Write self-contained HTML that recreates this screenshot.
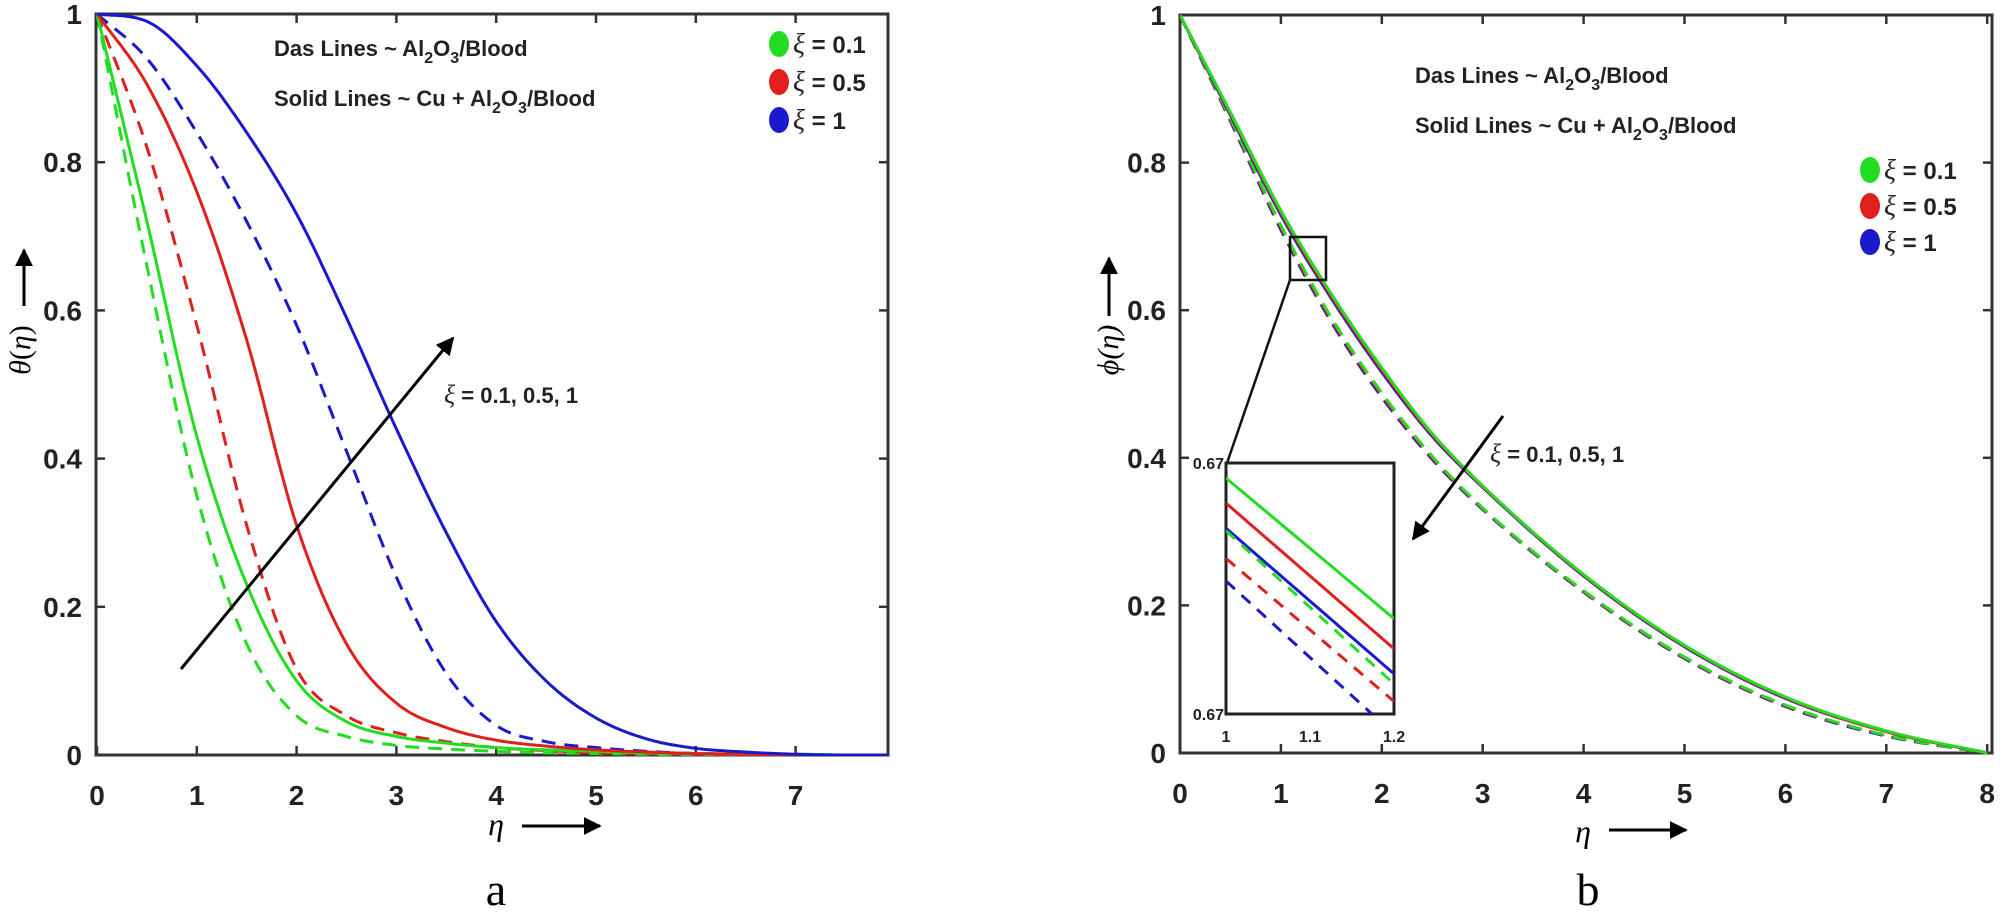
<!DOCTYPE html>
<html><head><meta charset="utf-8">
<style>
html,body{margin:0;padding:0;background:#fff;}
svg{display:block;}
text{font-family:"Liberation Sans",Arial,sans-serif;}
.tk{font-size:28px;font-weight:bold;fill:#222;}
.ann{font-size:22px;font-weight:bold;fill:#222;}
.leg{font-size:24px;font-weight:bold;fill:#222;}
.ser{font-family:"Liberation Serif",serif;}
</style></head>
<body>
<svg id="fig" width="2000" height="914" viewBox="0 0 2000 914" xmlns="http://www.w3.org/2000/svg">
<defs>
<marker id="ah" viewBox="0 0 10 10" refX="9" refY="5" markerWidth="6" markerHeight="6" orient="auto-start-reverse"><path d="M0,0 L10,5 L0,10 z" fill="#000"/></marker>
<clipPath id="clipA"><rect x="96" y="10" width="792" height="746"/></clipPath>
<clipPath id="clipB"><rect x="1180" y="10" width="812" height="746"/></clipPath>
<clipPath id="clipI"><rect x="1226" y="463" width="168" height="251"/></clipPath>
</defs>
<g id="plotA"></g>
<g id="plotB"></g>
</svg>
<script>
// ---- Chart A data: theta(eta)
const etaA = [0,0.5,1,1.5,2,2.5,3,3.5,4,4.5,5,5.5,6,6.5,7,7.5,8];
const thetaBlueSolid  = [1,0.99,0.93,0.84,0.73,0.59,0.44,0.30,0.18,0.10,0.05,0.022,0.009,0.004,0.001,0,0];
const thetaBlueDash   = [1,0.94,0.84,0.72,0.58,0.41,0.24,0.11,0.04,0.018,0.01,0.005,0.002,0.001,0,0,0];
const thetaRedSolid   = [1,0.905,0.76,0.56,0.31,0.15,0.07,0.037,0.02,0.012,0.007,0.004,0.002,0.001,0,0,0];
const thetaRedDash    = [1,0.82,0.58,0.31,0.116,0.053,0.03,0.018,0.01,0.006,0.003,0.002,0.001,0,0,0,0];
const thetaGreenSolid = [1,0.72,0.43,0.23,0.10,0.045,0.025,0.016,0.01,0.007,0.005,0.003,0.002,0.001,0.001,0,0];
const thetaGreenDash  = [1,0.66,0.35,0.15,0.053,0.025,0.013,0.008,0.005,0.003,0.002,0.001,0,0,0,0,0];
const xTicksA = [0,1,2,3,4,5,6,7];
const yTicks = [0,0.2,0.4,0.6,0.8,1];
const yTickLabels = ["0","0.2","0.4","0.6","0.8","1"];
// ---- Chart B data: phi(eta)
const etaB = [0,0.5,1,1.5,2,2.5,3,4,5,6,7,8];
const phiGreenSolid = [1,0.868,0.735,0.622,0.522,0.433,0.362,0.242,0.146,0.076,0.030,0];
const phiRedSolid   = [1,0.866,0.732,0.619,0.519,0.431,0.361,0.241,0.145,0.075,0.029,0];
const phiBlueSolid  = [1,0.864,0.729,0.616,0.516,0.429,0.360,0.240,0.144,0.074,0.029,0];
const phiGreenDash  = [1,0.860,0.715,0.590,0.488,0.402,0.332,0.220,0.130,0.065,0.024,0];
const phiRedDash    = [1,0.858,0.712,0.587,0.485,0.400,0.331,0.219,0.129,0.064,0.024,0];
const phiBlueDash   = [1,0.856,0.709,0.584,0.482,0.398,0.330,0.218,0.128,0.063,0.023,0];
const xTicksB = [0,1,2,3,4,5,6,7,8];
// ---- Inset data
const insetEta = [1.0,1.2];
const insetGreenSolid = [0.6744,0.6688];
const insetRedSolid   = [0.6734,0.6676];
const insetBlueSolid  = [0.6724,0.6666];
const insetGreenDash  = [0.6723,0.6662];
const insetRedDash    = [0.6712,0.6655];
const insetBlueDash   = [0.6703,0.6642];
const insetXTicks = [1,1.1,1.2];
const insetXLabels = ["1","1.1","1.2"];

const NS="http://www.w3.org/2000/svg";
function mk(parent,tag,attrs,txt){const e=document.createElementNS(NS,tag);for(const k in attrs)e.setAttribute(k,attrs[k]);if(txt!==undefined)e.textContent=txt;parent.appendChild(e);return e;}
function monoPath(xa,ya,xs,ys){
  const n=xa.length,d=[],m=new Array(n);
  for(let i=0;i<n-1;i++)d.push((ya[i+1]-ya[i])/(xa[i+1]-xa[i]));
  m[0]=d[0];m[n-1]=d[n-2];
  for(let i=1;i<n-1;i++){m[i]=(d[i-1]*d[i]<=0)?0:(d[i-1]+d[i])/2;}
  for(let i=0;i<n-1;i++){
    if(d[i]===0){m[i]=0;m[i+1]=0;continue;}
    const a=m[i]/d[i],b=m[i+1]/d[i],s=a*a+b*b;
    if(s>9){const t=3/Math.sqrt(s);m[i]=t*a*d[i];m[i+1]=t*b*d[i];}
  }
  let pts=[];
  for(let i=0;i<n-1;i++){
    const h=xa[i+1]-xa[i];
    for(let k=0;k<20;k++){
      const t=k/20,h00=2*t*t*t-3*t*t+1,h10=t*t*t-2*t*t+t,h01=-2*t*t*t+3*t*t,h11=t*t*t-t*t;
      const y=h00*ya[i]+h10*h*m[i]+h01*ya[i+1]+h11*h*m[i+1];
      pts.push(xs(xa[i]+t*h).toFixed(1)+","+ys(y).toFixed(1));
    }
  }
  pts.push(xs(xa[n-1]).toFixed(1)+","+ys(ya[n-1]).toFixed(1));
  return "M"+pts.join(" L");
}
const G="#22dd22",R="#e0201c",B="#1a1acc";

function drawAxes(g,cfg){
  const {L,Rt,T,Bt,xs,ys,xTicks}=cfg;
  const frame=mk(g,"rect",{x:L,y:T,width:Rt-L,height:Bt-T,fill:"none",stroke:"#333","stroke-width":3});
  
  
  xTicks.forEach(v=>{
    const x=xs(v);
    mk(g,"line",{x1:x,y1:Bt,x2:x,y2:Bt-9,stroke:"#333","stroke-width":2.5});
    mk(g,"line",{x1:x,y1:T,x2:x,y2:T+9,stroke:"#333","stroke-width":2.5});
    const t=mk(g,"text",{x:x,y:Bt+50,"text-anchor":"middle",class:"tk"},String(v));
    
    
  });
  yTicks.forEach((v,i)=>{
    const y=ys(v);
    mk(g,"line",{x1:L,y1:y,x2:L+9,y2:y,stroke:"#333","stroke-width":2.5});
    mk(g,"line",{x1:Rt,y1:y,x2:Rt-9,y2:y,stroke:"#333","stroke-width":2.5});
    const t=mk(g,"text",{x:L-14,y:y+10,"text-anchor":"end",class:"tk"},yTickLabels[i]);
    
    
  });
}
function drawSeries(g,xArr,yArr,xs,ys,color,dash,name,clip,w){
  const p=mk(g,"path",{d:monoPath(xArr,yArr,xs,ys),fill:"none",stroke:color,"stroke-width":w||3,"clip-path":"url(#"+clip+")","stroke-linejoin":"round"});
  if(dash)p.setAttribute("stroke-dasharray",dash);
  
  
}
function legend(g,x,y0,dy){
  const cols=[G,R,B],labs=["0.1","0.5","1"];
  cols.forEach((c,i)=>{
    const y=y0+i*dy;
    const e=mk(g,"ellipse",{cx:x,cy:y,rx:10,ry:13,fill:c});
    
    
    const t=mk(g,"text",{x:x+14,y:y+9,class:"leg"});
    
    
    mk(t,"tspan",{class:"ser","font-style":"italic","font-weight":"normal","font-size":"28"},"ξ");
    mk(t,"tspan",{}," = "+labs[i]);
  });
}
function annot(g,x,y1,y2){
  const a=mk(g,"text",{x:x,y:y1,class:"ann"});
  
  
  a.innerHTML='Das Lines ~ Al<tspan dy="7" font-size="16">2</tspan><tspan dy="-7">O</tspan><tspan dy="7" font-size="16">3</tspan><tspan dy="-7">/Blood</tspan>';
  const b=mk(g,"text",{x:x,y:y2,class:"ann"});
  
  
  b.innerHTML='Solid Lines ~ Cu + Al<tspan dy="7" font-size="16">2</tspan><tspan dy="-7">O</tspan><tspan dy="7" font-size="16">3</tspan><tspan dy="-7">/Blood</tspan>';
}
function arrowLine(g,x1,y1,x2,y2,name){
  const l=mk(g,"line",{x1:x1,y1:y1,x2:x2,y2:y2,stroke:"#000","stroke-width":3,"marker-end":"url(#ah)"});
  
  
}
function xiLabel(g,x,y){
  const t=mk(g,"text",{x:x,y:y,class:"ann"});
  
  
  mk(t,"tspan",{class:"ser","font-style":"italic","font-weight":"normal","font-size":"26"},"ξ");
  mk(t,"tspan",{}," = 0.1, 0.5, 1");
}

// ===== Plot A =====
(function(){
  const g=document.getElementById("plotA");
  const L=96,Rt=888,T=14,Bt=755;
  const xs=v=>97+v*99.8, ys=v=>Bt-v*(Bt-T);
  drawAxes(g,{L,Rt,T,Bt,xs,ys,xTicks:xTicksA});
  drawSeries(g,etaA,thetaGreenDash,xs,ys,G,"14,9","theta-green-dashed","clipA");
  drawSeries(g,etaA,thetaRedDash,xs,ys,R,"14,9","theta-red-dashed","clipA");
  drawSeries(g,etaA,thetaBlueDash,xs,ys,B,"14,9","theta-blue-dashed","clipA");
  drawSeries(g,etaA,thetaGreenSolid,xs,ys,G,null,"theta-green-solid","clipA");
  drawSeries(g,etaA,thetaRedSolid,xs,ys,R,null,"theta-red-solid","clipA");
  drawSeries(g,etaA,thetaBlueSolid,xs,ys,B,null,"theta-blue-solid","clipA");
  annot(g,274,56,106);
  legend(g,779,44,38);
  arrowLine(g,181,669,453,338,"trend-arrow");
  xiLabel(g,444,403);
  const yt=mk(g,"text",{x:0,y:0,transform:"translate(30,350) rotate(-90)","font-size":"30","text-anchor":"middle",class:"ser"});
  
  
  yt.innerHTML='<tspan font-style="italic">θ</tspan>(<tspan font-style="italic">η</tspan>)';
  arrowLine(g,24,306,24,250,"y-axis-arrow");
  const xt=mk(g,"text",{x:496,y:835,"font-size":"32","font-style":"italic",class:"ser","text-anchor":"middle"},"η");
  
  
  arrowLine(g,522,826,600,826,"x-axis-arrow");
  const cap=mk(g,"text",{x:496,y:905,"font-size":"46",class:"ser","text-anchor":"middle"},"a");
  
  
})();

// ===== Plot B =====
(function(){
  const g=document.getElementById("plotB");
  const L=1180,Rt=1992,T=15,Bt=753;
  const xs=v=>1180+v*100.9, ys=v=>Bt-v*(Bt-T);
  drawAxes(g,{L,Rt,T,Bt,xs,ys,xTicks:xTicksB});
  drawSeries(g,etaB,phiBlueDash,xs,ys,B,"14,9","phi-blue-dashed","clipB");
  drawSeries(g,etaB,phiRedDash,xs,ys,R,"14,9","phi-red-dashed","clipB");
  drawSeries(g,etaB,phiGreenDash,xs,ys,G,"14,9","phi-green-dashed","clipB");
  drawSeries(g,etaB,phiBlueSolid,xs,ys,B,null,"phi-blue-solid","clipB");
  drawSeries(g,etaB,phiRedSolid,xs,ys,R,null,"phi-red-solid","clipB");
  drawSeries(g,etaB,phiGreenSolid,xs,ys,G,null,"phi-green-solid","clipB");
  annot(g,1415,83,133);
  legend(g,1870,170,36);
  const zb=mk(g,"rect",{x:1290,y:237,width:36,height:43,fill:"none",stroke:"#111","stroke-width":2.5});
  
  
  const cl=mk(g,"line",{x1:1290,y1:280,x2:1227,y2:463,stroke:"#111","stroke-width":2.5});
  
  
  const ig=mk(g,"g",{});
  
  
  mk(ig,"rect",{x:1226,y:463,width:168,height:251,fill:"#fff",stroke:"#222","stroke-width":3});
  const ixs=v=>1226+(v-1)/0.2*168, iys=v=>463+(0.675-v)/0.01*251;
  drawSeries(ig,insetEta,insetGreenSolid,ixs,iys,G,null,"inset-green-solid","clipI");
  drawSeries(ig,insetEta,insetRedSolid,ixs,iys,R,null,"inset-red-solid","clipI");
  drawSeries(ig,insetEta,insetBlueSolid,ixs,iys,B,null,"inset-blue-solid","clipI");
  drawSeries(ig,insetEta,insetGreenDash,ixs,iys,G,"12,9","inset-green-dashed","clipI");
  drawSeries(ig,insetEta,insetRedDash,ixs,iys,R,"12,9","inset-red-dashed","clipI");
  drawSeries(ig,insetEta,insetBlueDash,ixs,iys,B,"12,9","inset-blue-dashed","clipI");
  insetXTicks.forEach((v,i)=>{
    const t=mk(ig,"text",{x:ixs(v),y:742,"font-size":"16","font-weight":"bold","text-anchor":"middle",fill:"#222"},insetXLabels[i]);
    
    
  });
  [463,714].forEach(y=>{
    const t=mk(ig,"text",{x:1224,y:y+6,"font-size":"16","font-weight":"bold","text-anchor":"end",fill:"#222"},"0.67");
    
    
  });
  arrowLine(g,1503,416,1413,539,"trend-arrow");
  xiLabel(g,1490,462);
  const yt=mk(g,"text",{x:0,y:0,transform:"translate(1118,350) rotate(-90)","font-size":"30","text-anchor":"middle",class:"ser","font-style":"italic"},"ϕ(η)");
  
  
  arrowLine(g,1109,316,1109,258,"y-axis-arrow");
  const xt=mk(g,"text",{x:1583,y:842,"font-size":"32","font-style":"italic",class:"ser","text-anchor":"middle"},"η");
  
  
  arrowLine(g,1609,830,1686,830,"x-axis-arrow");
  const cap=mk(g,"text",{x:1588,y:905,"font-size":"46",class:"ser","text-anchor":"middle"},"b");
  
  
})();
</script>
</body></html>
